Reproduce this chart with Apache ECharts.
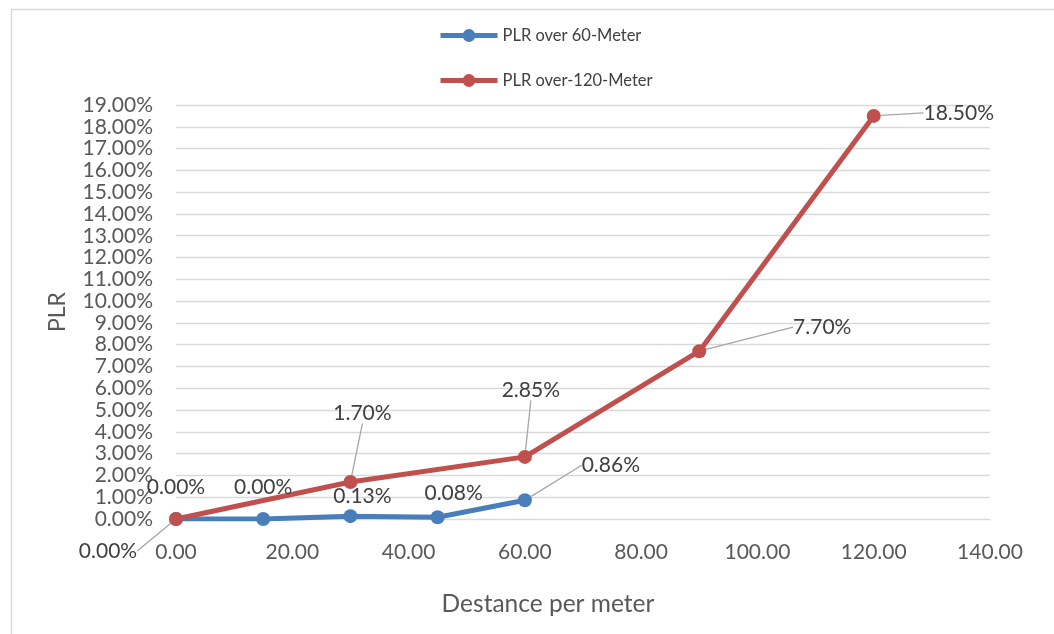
<!DOCTYPE html>
<html>
<head>
<meta charset="utf-8">
<style>
  html, body { margin: 0; padding: 0; background: #ffffff; }
  #chart { width: 1054px; height: 634px; }
</style>
<script src="https://cdn.jsdelivr.net/npm/echarts@6/dist/echarts.min.js"></script>
</head>
<body>
<div id="chart"></div>
<script>
// Distances (m) and packet loss ratios (%) for the two link lengths
const distance60 = [0, 15, 30, 45, 60];
const plr60 = [0.00, 0.00, 0.13, 0.08, 0.86];
const distance120 = [0, 30, 60, 90, 120];
const plr120 = [0.00, 1.70, 2.85, 7.70, 18.50];
const seriesNames = ['PLR over 60-Meter', 'PLR over-120-Meter'];

// Data label offsets from each point (px) and whether a leader line is drawn
const labelOffsets60 = [[0, -32], [0, -32], [12, -20], [16, -24], [86, -35]];
const leader60 = [false, false, false, false, true];
const labelOffsets120 = [[-68, 32], [12, -69], [6, -67], [123, -24], [85, -3]];
const leader120 = [true, true, true, true, true];

const FONT = 'Lato, "Liberation Sans", sans-serif';

function buildData(xs, ys, leaders) {
  return xs.map((x, i) => ({
    value: [x, ys[i]],
    labelLine: { show: leaders[i] }
  }));
}

function makeSeries(name, xs, ys, leaders, offsets, color) {
  return {
    name: name,
    type: 'line',
    data: buildData(xs, ys, leaders),
    symbol: 'circle',
    symbolSize: 14,
    lineStyle: { color: color, width: 5 },
    itemStyle: { color: color },
    label: {
      show: true,
      position: 'inside',
      color: '#404040',
      fontFamily: FONT,
      fontSize: 21,
      formatter: p => p.value[1].toFixed(2) + '%'
    },
    labelLine: {
      show: true,
      lineStyle: { color: '#a6a6a6', width: 1.3 }
    },
    labelLayout: function (params) {
      const o = offsets[params.dataIndex];
      return { dx: o[0], dy: o[1] };
    },
    emphasis: { disabled: true },
    animation: false
  };
}

const chart = echarts.init(document.getElementById('chart'), null, { renderer: 'canvas' });

chart.setOption({
  animation: false,
  backgroundColor: '#ffffff',
  graphic: [{
    type: 'rect',
    left: 9, top: 7,
    shape: { width: 1100, height: 700 },
    style: { fill: 'none', stroke: '#d9d9d9', lineWidth: 1.5 },
    silent: true
  }],
  legend: {
    orient: 'vertical',
    left: 433,
    top: 22,
    itemWidth: 57,
    itemHeight: 16,
    itemGap: 28,
    data: seriesNames,
    lineStyle: { width: 5 },
    textStyle: { color: '#404040', fontFamily: FONT, fontSize: 16.5 }
  },
  grid: { left: 176, right: 64, top: 105, bottom: 115, containLabel: false },
  xAxis: {
    type: 'value',
    min: 0, max: 140, interval: 20,
    name: 'Destance per meter',
    nameLocation: 'middle',
    nameGap: 73,
    nameTextStyle: {
      color: '#595959', fontFamily: FONT, fontSize: 24.5,
      padding: [0, 70, 0, 0]
    },
    axisLine: { show: true, lineStyle: { color: '#d9d9d9', width: 1 } },
    axisTick: { show: false },
    splitLine: { show: false },
    axisLabel: {
      color: '#595959', fontFamily: FONT, fontSize: 21, margin: 23,
      formatter: v => v.toFixed(2)
    }
  },
  yAxis: {
    type: 'value',
    min: 0, max: 19, interval: 1,
    name: 'PLR',
    nameLocation: 'middle',
    nameRotate: 90,
    nameGap: 107,
    nameTextStyle: { color: '#595959', fontFamily: FONT, fontSize: 23 },
    axisLine: { show: false },
    axisTick: { show: false },
    splitLine: { show: true, lineStyle: { color: '#d9d9d9', width: 1.3 } },
    axisLabel: {
      color: '#595959', fontFamily: FONT, fontSize: 21, margin: 23,
      formatter: v => v.toFixed(2) + '%'
    }
  },
  series: [
    makeSeries(seriesNames[0], distance60, plr60, leader60, labelOffsets60, '#4a7ebb'),
    makeSeries(seriesNames[1], distance120, plr120, leader120, labelOffsets120, '#c0504d')
  ]
});
</script>
</body>
</html>
